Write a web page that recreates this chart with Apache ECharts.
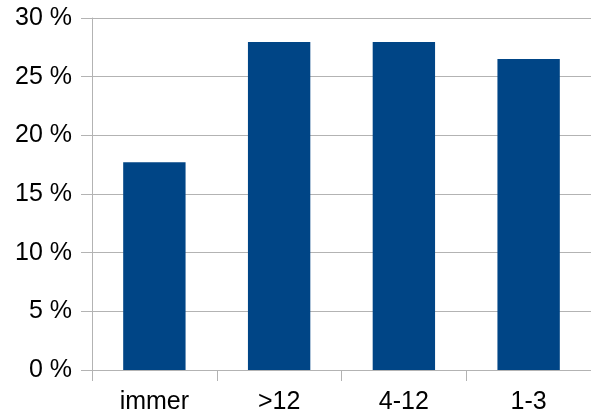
<!DOCTYPE html>
<html>
<head>
<meta charset="utf-8">
<script src="https://cdn.jsdelivr.net/npm/echarts@6/dist/echarts.min.js"></script>
<style>
html,body{margin:0;padding:0;background:#fff;}
#chart{width:591px;height:415px;}
</style>
</head>
<body>
<div id="chart"></div>
<script>
var categories = ['immer', '>12', '4-12', '1-3'];
var values = [17.7, 27.95, 27.95, 26.5];

var chart = echarts.init(document.getElementById('chart'), null, {renderer: 'canvas'});
chart.setOption({
  animation: false,
  backgroundColor: '#ffffff',
  grid: {left: 92, top: 18, width: 502, height: 352, containLabel: false},
  xAxis: {
    type: 'category',
    data: categories,
    boundaryGap: true,
    axisLine: {show: true, lineStyle: {color: '#b3b3b3', width: 1}},
    axisTick: {show: true, alignWithLabel: false, length: 11, lineStyle: {color: '#b3b3b3'}},
    axisLabel: {color: '#000', fontFamily: 'Liberation Sans', fontSize: 25, margin: 20}
  },
  yAxis: {
    type: 'value',
    min: 0, max: 30, interval: 5,
    axisLine: {show: true, lineStyle: {color: '#b3b3b3', width: 1}},
    axisTick: {show: true, length: 11, lineStyle: {color: '#b3b3b3'}},
    splitLine: {show: true, lineStyle: {color: '#b3b3b3', width: 1}},
    axisLabel: {color: '#000', fontFamily: 'Liberation Sans', fontSize: 25, margin: 20,
      formatter: function (v) { return v + ' %'; }}
  },
  series: [{
    type: 'bar',
    data: values,
    barWidth: '50%',
    itemStyle: {color: '#004586'}
  }]
});
</script>
</body>
</html>
